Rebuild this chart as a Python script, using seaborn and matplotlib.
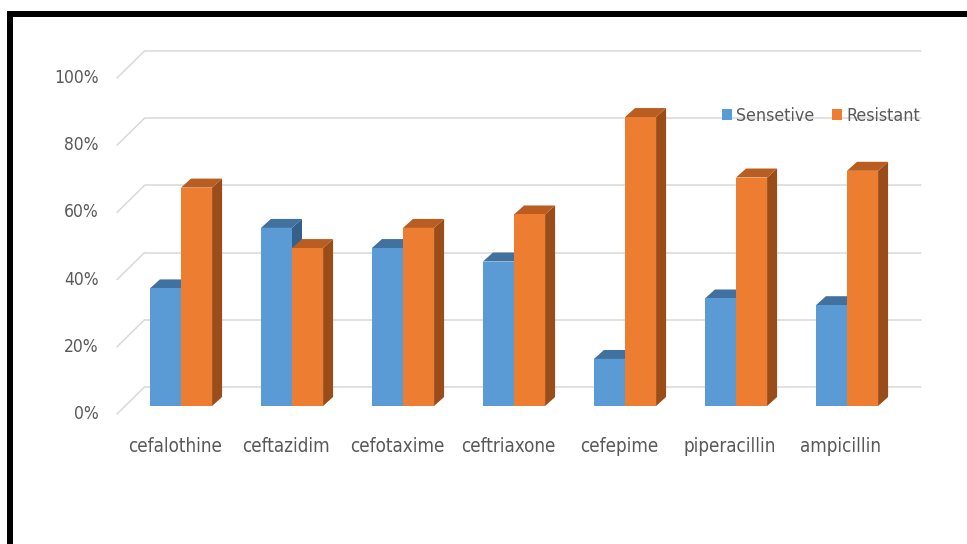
import matplotlib
matplotlib.use("Agg")
import matplotlib.pyplot as plt
import matplotlib.transforms as mtransforms
from matplotlib.patches import Polygon, Rectangle, Patch
import seaborn as sns
import pandas as pd

drugs = ["cefalothine", "ceftazidim", "cefotaxime", "ceftriaxone",
         "cefepime", "piperacillin", "ampicillin"]
sensitive = [35, 53, 47, 43, 14, 32, 30]
resistant = [65, 47, 53, 57, 86, 68, 70]
series_names = ["Sensetive", "Resistant"]
yticks = [0, 20, 40, 60, 80, 100]
ytick_labels = ["0%", "20%", "40%", "60%", "80%", "100%"]

BLUE = "#5B9BD5"
ORANGE = "#ED7D31"
TOPS = {0: "#41729F", 1: "#B95D20"}
SIDES = {0: "#34608A", 1: "#9B4D19"}
TXT = "#595959"
GRID = "#D9D9D9"

df = pd.DataFrame({
    "drug": drugs * 2,
    "pct": sensitive + resistant,
    "status": [series_names[0]] * len(drugs) + [series_names[1]] * len(drugs),
})

sns.set_style("white")
plt.rcParams["font.family"] = ["DejaVu Sans"]
plt.rcParams["font.stretch"] = "condensed"

W, H = 967, 544
fig = plt.figure(figsize=(W / 100, H / 100), dpi=100)
ax_left, ax_right = 125.5, 902.5
ax_top, ax_bottom = 70, 406
ax = fig.add_axes([ax_left / W, 1 - ax_bottom / H,
                   (ax_right - ax_left) / W, (ax_bottom - ax_top) / H])

sns.barplot(data=df, x="drug", y="pct", hue="status", order=drugs,
            hue_order=series_names, palette=[BLUE, ORANGE], width=0.56,
            gap=0, saturation=1, legend=False, ax=ax, zorder=3,
            linewidth=0, edgecolor="none")

ax.set_xlim(-0.5, len(drugs) - 0.5)
ax.set_ylim(0, 100)
for s in ax.spines.values():
    s.set_visible(False)
ax.set_xlabel("")
ax.set_ylabel("")
ax.set_yticks([])
ax.tick_params(axis="x", length=0, pad=22, labelsize=13.5, labelcolor=TXT)
shift = mtransforms.ScaledTranslation(-6 / 100, 0, fig.dpi_scale_trans)
for t in ax.get_xticklabels():
    t.set_transform(t.get_transform() + shift)

# 3D offsets in pixels
dxp, dyp = 10, 9
px_x = (ax_right - ax_left) / len(drugs)
px_y = (ax_bottom - ax_top) / 100.0
dx = dxp / px_x
dy = dyp / px_y

for si, cont in enumerate(ax.containers):
    for bar in cont:
        x0 = bar.get_x()
        w = bar.get_width()
        h = bar.get_height()
        x1 = x0 + w
        side = Polygon([(x1, 0), (x1, h), (x1 + dx, h + dy), (x1 + dx, dy)],
                       closed=True, facecolor=SIDES[si], edgecolor="none",
                       zorder=3 + si * 2 + 0.5)
        top = Polygon([(x0, h), (x1, h), (x1 + dx, h + dy), (x0 + dx, h + dy)],
                      closed=True, facecolor=TOPS[si], edgecolor="none",
                      zorder=3 + si * 2 + 0.5)
        ax.add_patch(side)
        ax.add_patch(top)
        bar.set_zorder(3 + si * 2 + 1)

# back-wall gridlines with diagonal lead-ins
back = ax.transData + mtransforms.ScaledTranslation(19 / 100, 19 / 100, fig.dpi_scale_trans)
front = ax.transData + mtransforms.ScaledTranslation(-8.5 / 100, -8 / 100, fig.dpi_scale_trans)
for v, lab in zip(yticks, ytick_labels):
    ax.plot([-0.5, len(drugs) - 0.5], [v, v], color=GRID, lw=1.1,
            transform=back, clip_on=False, zorder=1)
    p_back = back.transform((-0.5, v))
    p_front = front.transform((-0.5, v))
    ax.add_line(plt.Line2D([p_front[0], p_back[0]], [p_front[1], p_back[1]],
                           color=GRID, lw=1.1, transform=None, clip_on=False, zorder=1))
    lab_t = ax.transData + mtransforms.ScaledTranslation(-27 / 100, -8 / 100, fig.dpi_scale_trans)
    ax.text(-0.5, v, lab, transform=lab_t, ha="right", va="center",
            fontsize=12.5, color=TXT)

handles = [Patch(facecolor=BLUE, edgecolor="none"),
           Patch(facecolor=ORANGE, edgecolor="none")]
fig.legend(handles, series_names, loc="center left",
           bbox_to_anchor=(706 / W, 1 - 116 / H), ncol=2, frameon=False,
           handlelength=0.55, handleheight=0.55, handletextpad=0.25,
           columnspacing=1.0, fontsize=12.8, labelcolor=TXT)

# black frame (top and left)
fig.add_artist(Rectangle((7 / W, 0), 6 / W, 1 - 11 / H, transform=fig.transFigure,
                         facecolor="black", edgecolor="none"))
fig.add_artist(Rectangle((7 / W, 1 - 17 / H), 1 - 7 / W, 6 / H, transform=fig.transFigure,
                         facecolor="black", edgecolor="none"))

fig.savefig("out.png", dpi=100, facecolor="white")
